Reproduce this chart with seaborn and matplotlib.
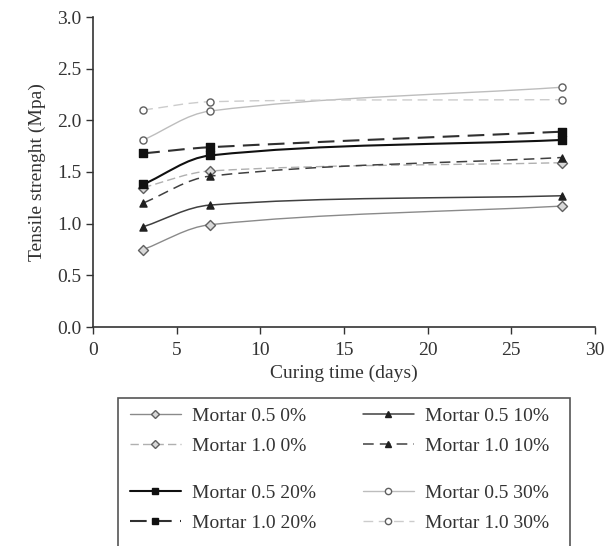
import numpy as np
import matplotlib
matplotlib.use("Agg")
import matplotlib.pyplot as plt
from matplotlib.path import Path
from matplotlib.patches import PathPatch, Rectangle
from matplotlib.lines import Line2D
import seaborn as sns

# curing days and tensile strength
days = [3, 7, 28]
mortar05_0 = [0.75, 0.99, 1.17]
mortar10_0 = [1.35, 1.51, 1.59]
mortar05_10 = [0.97, 1.18, 1.27]
mortar10_10 = [1.20, 1.46, 1.64]
mortar05_20 = [1.38, 1.66, 1.81]
mortar10_20 = [1.68, 1.74, 1.89]
mortar05_30 = [1.81, 2.09, 2.32]
mortar10_30 = [2.10, 2.18, 2.20]

labels = ["Mortar 0.5 0%", "Mortar 1.0 0%", "Mortar 0.5 10%", "Mortar 1.0 10%",
          "Mortar 0.5 20%", "Mortar 1.0 20%", "Mortar 0.5 30%", "Mortar 1.0 30%"]
series = [mortar05_0, mortar10_0, mortar05_10, mortar10_10,
          mortar05_20, mortar10_20, mortar05_30, mortar10_30]

# line colour, dash, width, marker, face, edge
styles = [
    ("#8a8a8a", None, 1.0, "D", "#d8d8d8", "#606060"),
    ("#b0b0b0", (0, (6, 3)), 1.0, "D", "#d8d8d8", "#606060"),
    ("#404040", None, 1.1, "^", "#202020", "#202020"),
    ("#404040", (0, (7, 4)), 1.1, "^", "#202020", "#202020"),
    ("#101010", None, 1.5, "s", "#101010", "#101010"),
    ("#303030", (0, (8, 4)), 1.5, "s", "#101010", "#101010"),
    ("#bdbdbd", None, 1.0, "o", "white", "#606060"),
    ("#cccccc", (0, (7, 4)), 1.0, "o", "white", "#606060"),
]

sns.set_style("ticks")
plt.rcParams["font.family"] = ["Liberation Serif", "DejaVu Serif"]

W, H = 605, 546
fig = plt.figure(figsize=(W / 100, H / 100), dpi=100)
ax = fig.add_axes([93 / W, 1 - 327 / H, (595 - 93) / W, (327 - 17) / H])
ax.set_xlim(0, 30)
ax.set_ylim(0, 3.0)


def smooth_path(xs, ys):
    # Excel-like smoothed line: cubic bezier in screen space
    pts = ax.transData.transform(np.column_stack([xs, ys]))
    n = len(pts)
    verts = [pts[0]]
    codes = [Path.MOVETO]
    tang = []
    for i in range(n):
        a = pts[max(i - 1, 0)]
        b = pts[min(i + 1, n - 1)]
        d = b - a
        tang.append(d / np.hypot(*d))
    for i in range(n - 1):
        seg = np.hypot(*(pts[i + 1] - pts[i])) / 3
        c1 = pts[i] + tang[i] * seg
        c2 = pts[i + 1] - tang[i + 1] * seg
        verts += [c1, c2, pts[i + 1]]
        codes += [Path.CURVE4] * 3
    verts = ax.transData.inverted().transform(np.array(verts))
    return Path(verts, codes)


for vals, (col, dash, lw, mk, fc, ec) in zip(series, styles):
    patch = PathPatch(smooth_path(days, vals), fill=False, edgecolor=col,
                      linewidth=lw, linestyle=dash if dash else "-", zorder=2)
    ax.add_patch(patch)
    sns.scatterplot(x=days, y=vals, marker=mk, s=26, color=fc, edgecolor=ec,
                    linewidth=1.0, ax=ax, zorder=3)

ax.set_xticks(range(0, 31, 5))
ax.set_yticks(np.arange(0, 3.01, 0.5))
ax.set_yticklabels([f"{v:.1f}" for v in np.arange(0, 3.01, 0.5)])
ax.tick_params(labelsize=14, colors="#333333", length=5, width=1.0, direction="out")
ax.tick_params(axis="x", pad=6)
for s in ["top", "right"]:
    ax.spines[s].set_visible(False)
for s in ["left", "bottom"]:
    ax.spines[s].set_color("#333333")
    ax.spines[s].set_linewidth(1.2)
ax.set_xlabel("Curing time (days)", fontsize=14, color="#333333", labelpad=4)
ax.set_ylabel("Tensile strenght (Mpa)", fontsize=14, color="#333333", labelpad=8)


def handle(st):
    col, dash, lw, mk, fc, ec = st
    return Line2D([], [], color=col, linestyle=dash if dash else "-", linewidth=lw,
                  marker=mk, markersize=4.5, markerfacecolor=fc, markeredgecolor=ec)


legend_kw = dict(frameon=False, fontsize=14, handlelength=2.6, borderpad=0,
                 labelspacing=0.65, handletextpad=0.6,
                 loc="upper left", borderaxespad=0)
# (entries, left x of handle, top y) in pixels
blocks = [([0, 1], 130, 407), ([2, 3], 363, 407),
          ([4, 5], 130, 484), ([6, 7], 363, 484)]
for order, left, top in blocks:
    lg = fig.legend([handle(styles[i]) for i in order], [labels[i] for i in order],
                    bbox_to_anchor=(left / W, 1 - top / H), **legend_kw)
    for t in lg.get_texts():
        t.set_color("#333333")

fig.patches.append(Rectangle((118 / W, 1 - 552 / H), (570 - 118) / W, (552 - 398) / H,
                             transform=fig.transFigure, fill=False,
                             edgecolor="#555555", linewidth=1.2))

fig.savefig("out.png", dpi=100)
